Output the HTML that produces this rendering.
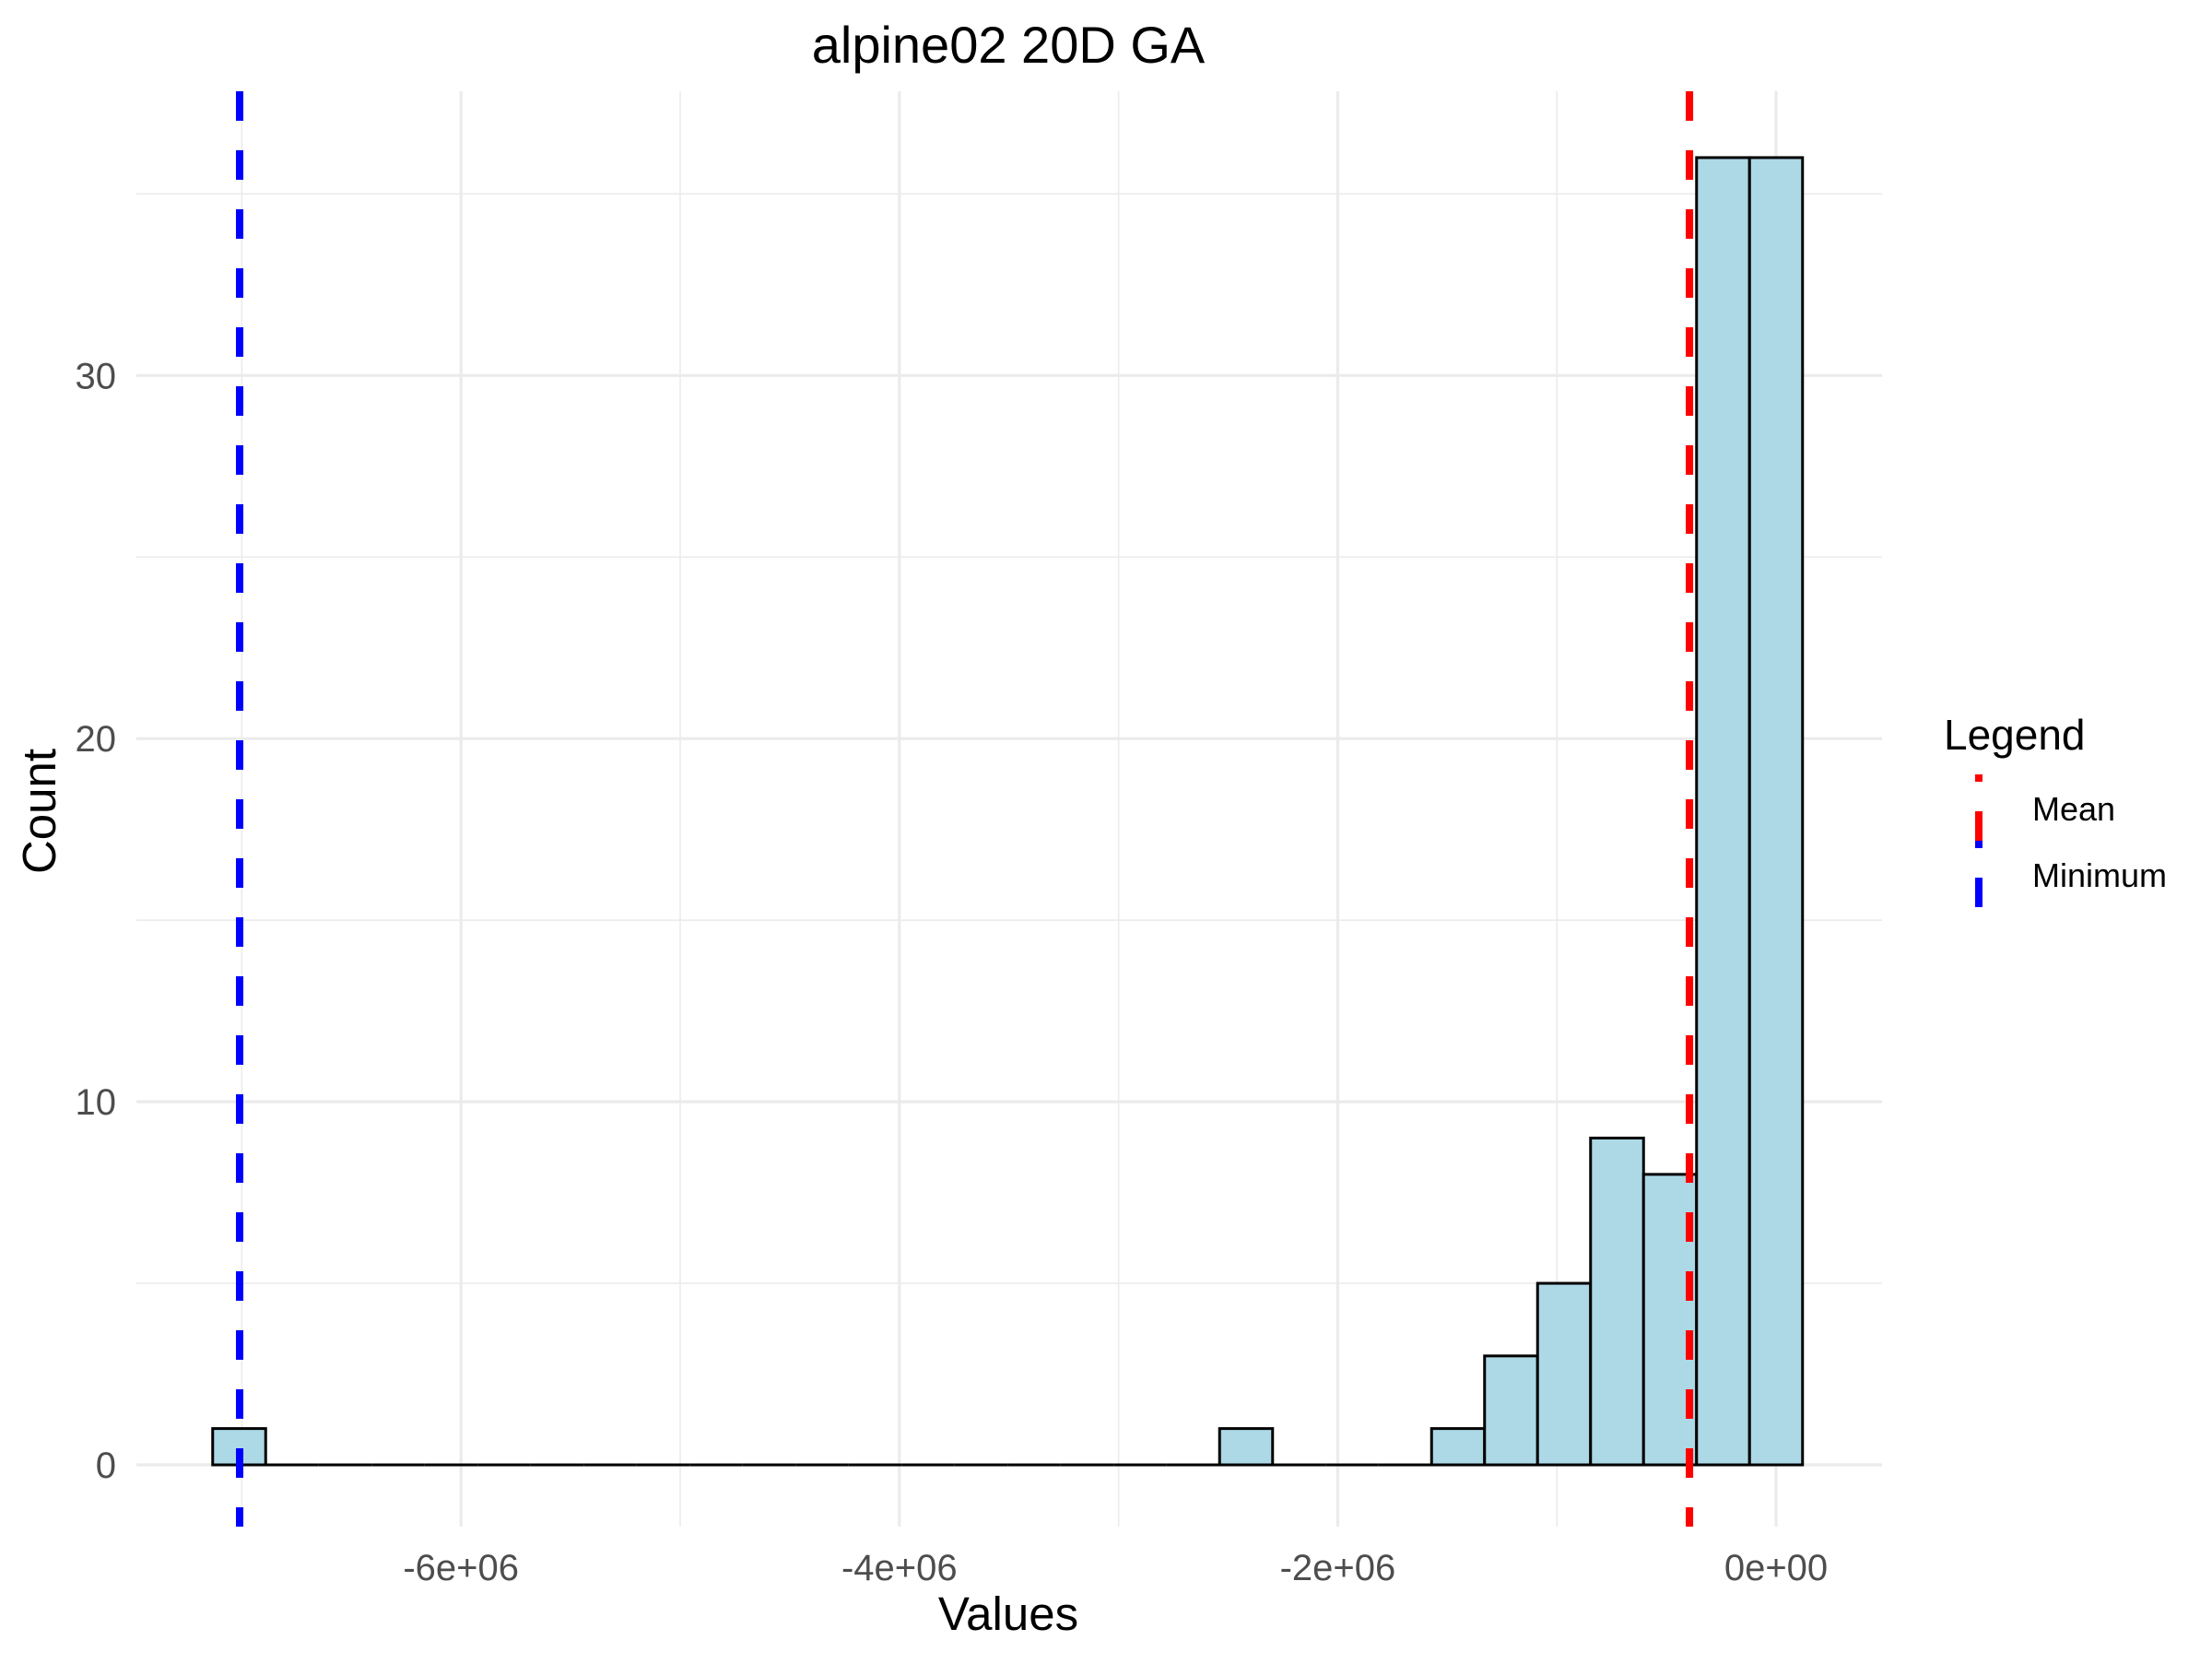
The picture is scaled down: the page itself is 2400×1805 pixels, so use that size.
<!DOCTYPE html>
<html><head><meta charset="utf-8"><style>
body{margin:0;background:#fff;}
svg text{font-family:"Liberation Sans",Arial,sans-serif;}
</style></head><body>
<svg id="chart" width="2400" height="1800" xmlns="http://www.w3.org/2000/svg">
<rect width="2400" height="1800" fill="#fff"/>
<g id="grid"></g><g id="bars"></g><g id="lines"></g><g id="axes"></g>
<text x="1094" y="68" font-size="56" text-anchor="middle">alpine02 20D GA</text>
<text x="1094" y="1768" font-size="51" text-anchor="middle">Values</text>
<text transform="translate(60,880) rotate(-90)" font-size="51" text-anchor="middle">Count</text>
<g>
<text x="2109" y="813" font-size="46">Legend</text>
<line x1="2147" y1="840" x2="2147" y2="920" stroke="#f00" stroke-width="8" stroke-dasharray="8,32,32,100"/>
<text x="2205" y="890" font-size="36">Mean</text>
<line x1="2147" y1="912" x2="2147" y2="984" stroke="#00f" stroke-width="8" stroke-dasharray="8,32,32,100"/>
<text x="2205" y="962" font-size="36">Minimum</text>
</g>
</svg>
<script>
const binCenters=[-29,-10,-6,-5,-4,-3,-2,-1,0];
const counts=[1,1,1,3,5,9,8,36,36];
const binWidth=0.2418e6;
const meanValue=-0.395e6;
const minValue=-7.01e6;
const xTicks=[-6e6,-4e6,-2e6,0];
const xTickLabels=["-6e+06","-4e+06","-2e+06","0e+00"];
const xMinor=[-7e6,-5e6,-3e6,-1e6];
const yTicks=[0,10,20,30];
const yMinor=[5,15,25,35];
const NS="http://www.w3.org/2000/svg";
const L=148,R=2042,T=99,B=1656;
const X=v=>1927+v/1e6*237.8;
const Y=v=>1589-v*39.39;
function mk(tag,attrs,parent){const e=document.createElementNS(NS,tag);for(const k in attrs)e.setAttribute(k,attrs[k]);document.getElementById(parent).appendChild(e);return e;}
xMinor.forEach(v=>{const e=mk('line',{x1:X(v),x2:X(v),y1:T,y2:B,stroke:'#ebebeb','stroke-width':1.6},'grid');

});
yMinor.forEach(v=>{const e=mk('line',{x1:L,x2:R,y1:Y(v),y2:Y(v),stroke:'#ebebeb','stroke-width':1.6},'grid');

});
xTicks.forEach((v,i)=>{const e=mk('line',{x1:X(v),x2:X(v),y1:T,y2:B,stroke:'#ebebeb','stroke-width':3.2},'grid');


const t=mk('text',{x:X(v),y:1714,'font-size':40,fill:'#4d4d4d','text-anchor':'middle'},'axes');t.textContent=xTickLabels[i];

});
yTicks.forEach(v=>{const e=mk('line',{x1:L,x2:R,y1:Y(v),y2:Y(v),stroke:'#ebebeb','stroke-width':3.2},'grid');


const t=mk('text',{x:126,y:Y(v)+14,'font-size':40,fill:'#4d4d4d','text-anchor':'end'},'axes');t.textContent=String(v);

});
const k0=Math.min(...binCenters),k1=Math.max(...binCenters);
for(let k=k0;k<=k1;k++){ if(!binCenters.includes(k)){const e=mk('line',{x1:X((k-0.5)*binWidth),x2:X((k+0.5)*binWidth),y1:Y(0),y2:Y(0),stroke:'#000','stroke-width':3},'bars');

}}
binCenters.forEach((k,i)=>{const x0=X((k-0.5)*binWidth),x1=X((k+0.5)*binWidth);
const e=mk('rect',{x:x0,y:Y(counts[i]),width:x1-x0,height:Y(0)-Y(counts[i]),fill:'#add8e6',stroke:'#000','stroke-width':3},'bars');

});
const m=mk('line',{x1:X(meanValue),x2:X(meanValue),y1:T,y2:B,stroke:'#f00','stroke-width':8,'stroke-dasharray':'32,32'},'lines');


const n=mk('line',{x1:X(minValue),x2:X(minValue),y1:T,y2:B,stroke:'#00f','stroke-width':8,'stroke-dasharray':'32,32'},'lines');


</script>
</body></html>
